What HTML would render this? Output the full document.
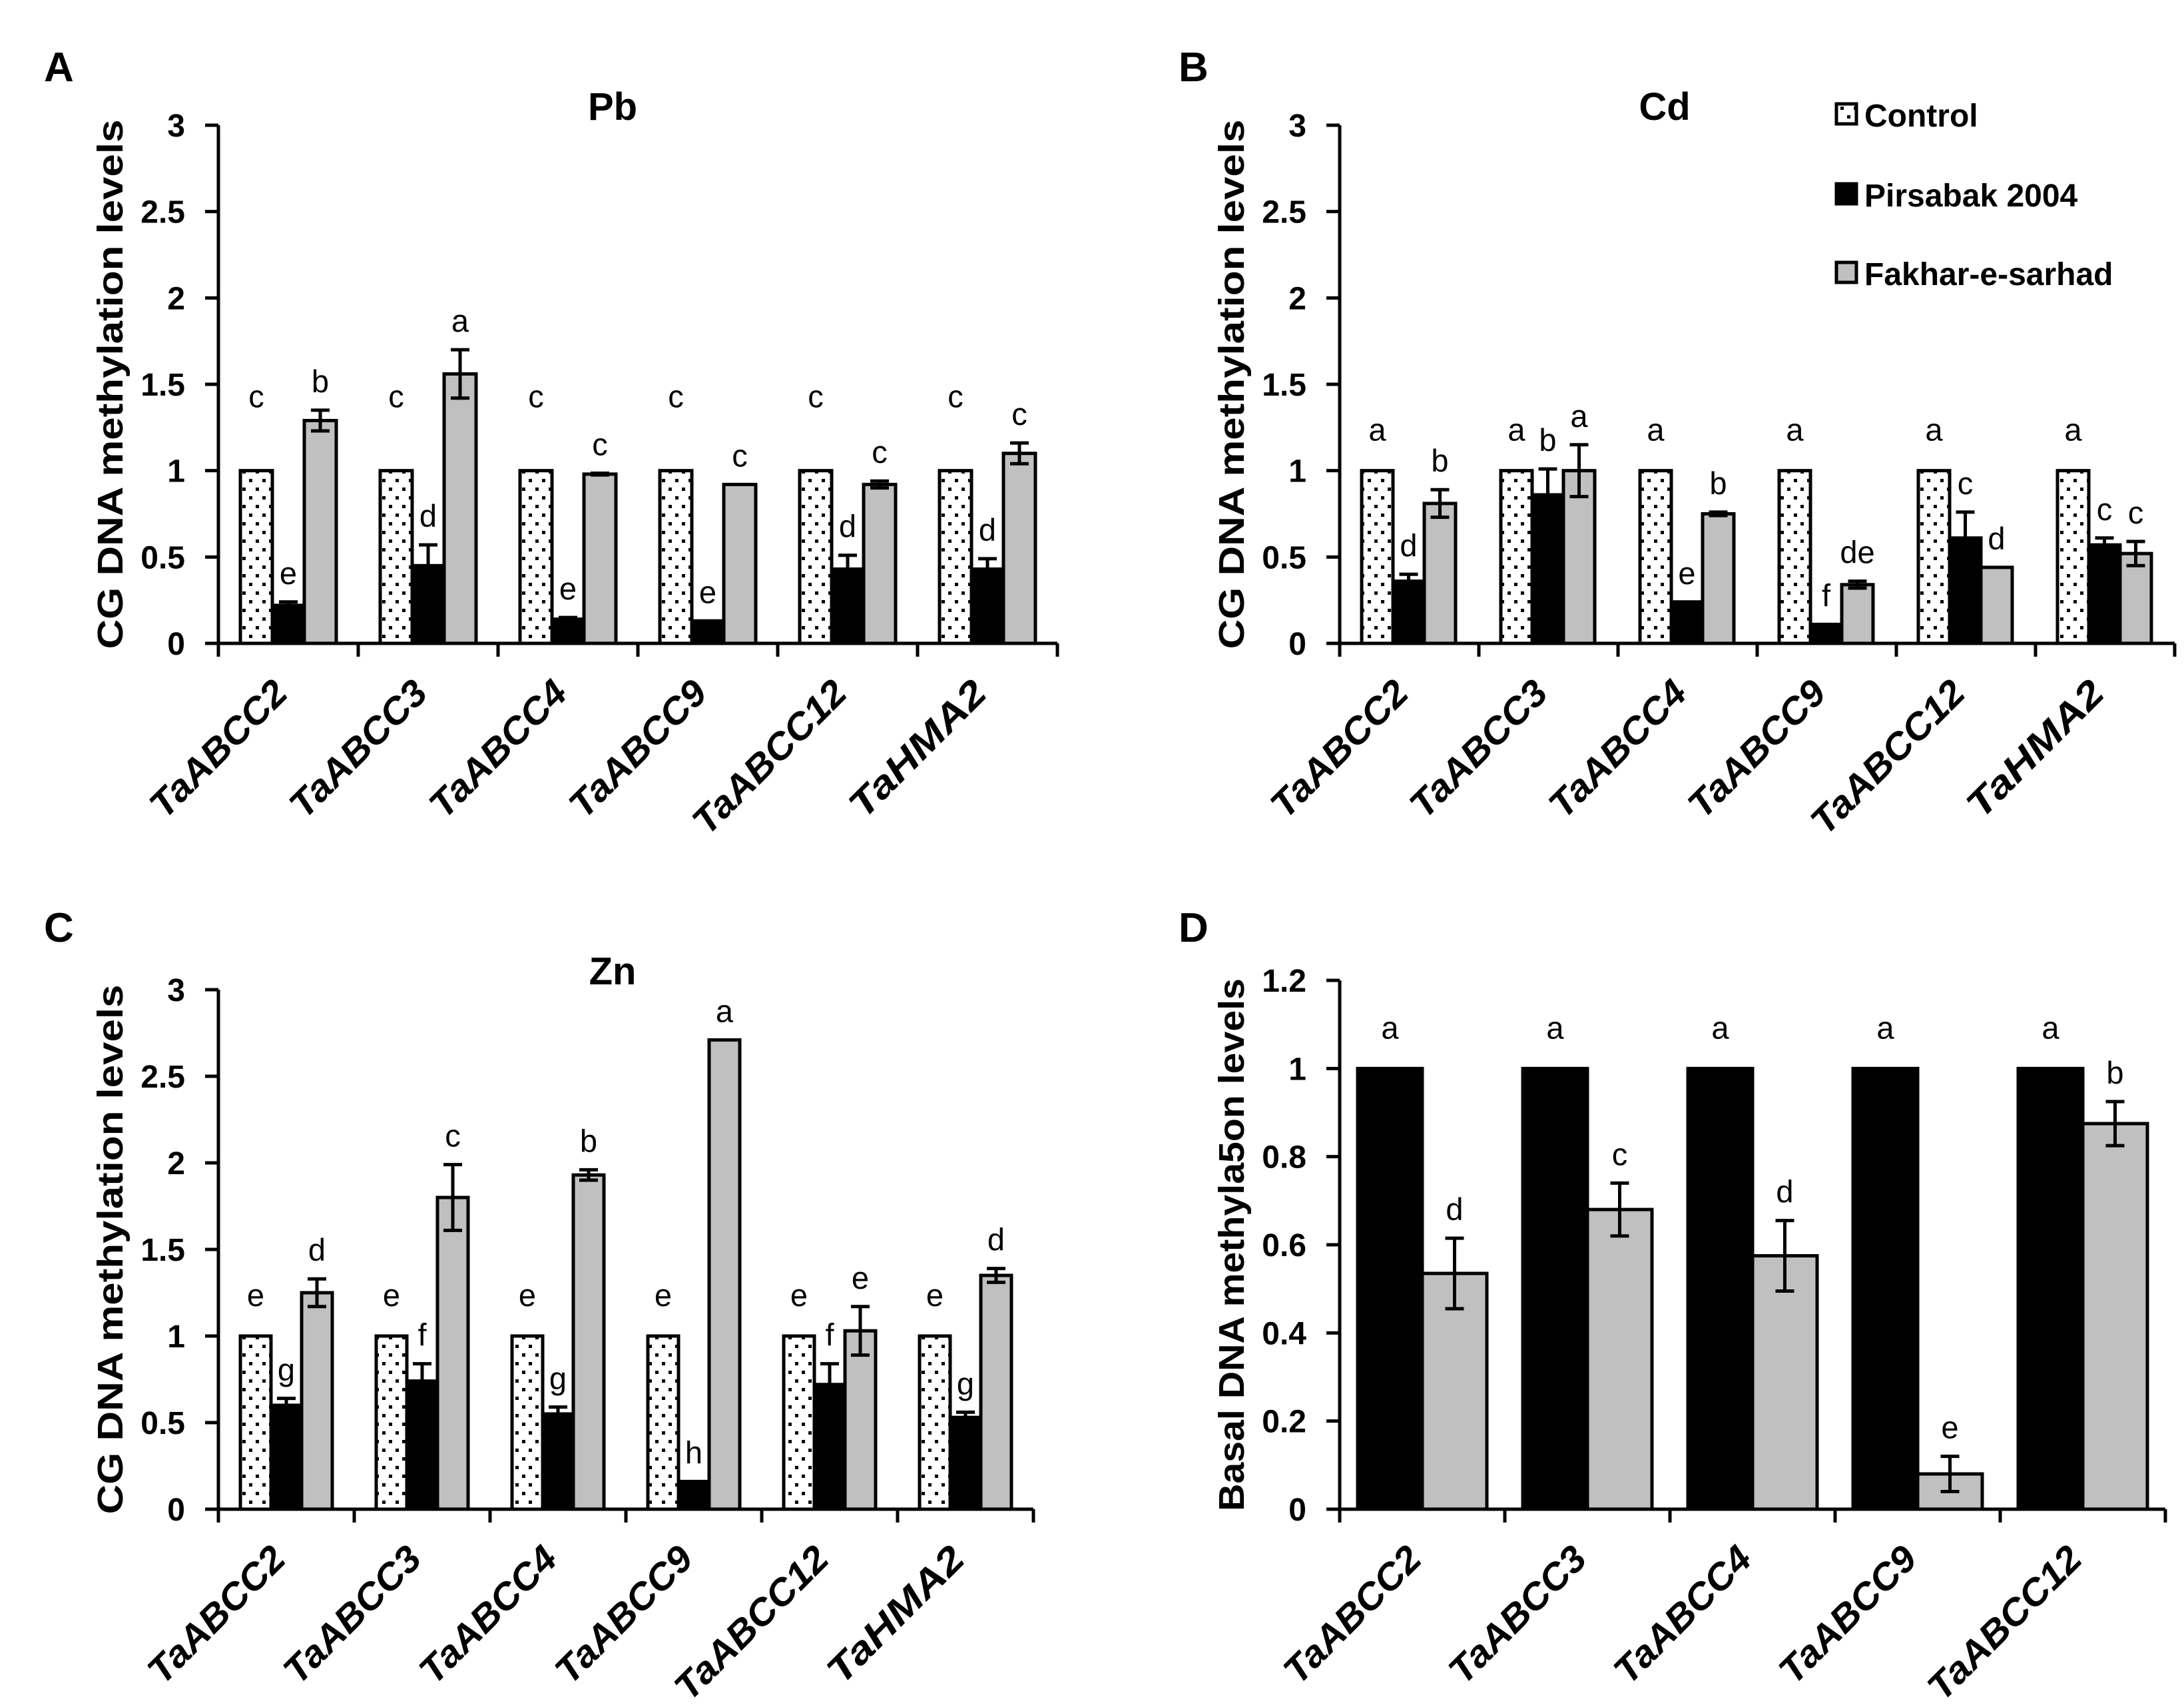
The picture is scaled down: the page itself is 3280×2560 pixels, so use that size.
<!DOCTYPE html>
<html><head><meta charset="utf-8"><style>
html,body{margin:0;padding:0;background:#fff}
svg{display:block}
text{font-family:"Liberation Sans",sans-serif}
</style></head><body>
<svg id="fig" width="3280" height="2560" viewBox="0 0 3280 2560" xmlns="http://www.w3.org/2000/svg">
<defs>
<pattern id="dots" patternUnits="userSpaceOnUse" width="20" height="26">
<rect width="20" height="26" fill="#fff"/>
<rect x="4" y="4" width="5" height="5" fill="#000"/>
<rect x="14" y="17" width="5" height="5" fill="#000"/>
</pattern>
</defs>
<g id="root"></g>
</svg>
<script>
const genes6 = ["TaABCC2","TaABCC3","TaABCC4","TaABCC9","TaABCC12","TaHMA2"];
const genes5 = ["TaABCC2","TaABCC3","TaABCC4","TaABCC9","TaABCC12"];
const ticks3 = [0,0.5,1,1.5,2,2.5,3];
const tickLabels3 = ["0","0.5","1","1.5","2","2.5","3"];
const ticksD = [0,0.2,0.4,0.6,0.8,1,1.2];
const tickLabelsD = ["0","0.2","0.4","0.6","0.8","1","1.2"];

const pbControl = [1,1,1,1,1,1];
const pbPirsabak = [0.22,0.45,0.14,0.13,0.43,0.43];
const pbPirsabakErr = [0.02,0.12,0.01,0,0.08,0.06];
const pbFakhar = [1.29,1.56,0.98,0.92,0.92,1.10];
const pbFakharErr = [0.06,0.14,0.005,0,0.02,0.06];
const pbLetC = ["c","c","c","c","c","c"];
const pbLetP = ["e","d","e","e","d","d"];
const pbLetF = ["b","a","c","c","c","c"];

const cdControl = [1,1,1,1,1,1];
const cdPirsabak = [0.36,0.86,0.24,0.11,0.61,0.57];
const cdPirsabakErr = [0.04,0.15,0,0,0.15,0.04];
const cdFakhar = [0.81,1.0,0.75,0.34,0.44,0.52];
const cdFakharErr = [0.08,0.15,0.01,0.02,0,0.07];
const cdLetC = ["a","a","a","a","a","a"];
const cdLetP = ["d","b","e","f","c","c"];
const cdLetF = ["b","a","b","de","d","c"];

const znControl = [1,1,1,1,1,1];
const znPirsabak = [0.60,0.74,0.55,0.16,0.72,0.53];
const znPirsabakErr = [0.04,0.10,0.04,0,0.12,0.03];
const znFakhar = [1.25,1.80,1.93,2.71,1.03,1.35];
const znFakharErr = [0.08,0.19,0.03,0,0.14,0.04];
const znLetC = ["e","e","e","e","e","e"];
const znLetP = ["g","f","g","h","f","g"];
const znLetF = ["d","c","b","a","e","d"];

const basalPirsabak = [1,1,1,1,1];
const basalFakhar = [0.535,0.68,0.575,0.08,0.875];
const basalFakharErr = [0.08,0.06,0.08,0.04,0.05];
const basalLetP = ["a","a","a","a","a"];
const basalLetF = ["d","c","d","e","b"];

const NS="http://www.w3.org/2000/svg";
const root=document.getElementById('root');
function el(tag,attrs,parent,txt){const e=document.createElementNS(NS,tag);for(const k in attrs)e.setAttribute(k,attrs[k]);if(txt!==undefined)e.textContent=txt;(parent||root).appendChild(e);return e;}

function panel(cfg){
  const g=el('g',{});
  
  
  const y=v=>cfg.y0-(v/cfg.max)*(cfg.y0-cfg.yTop);
  const n=cfg.cats.length;
  const gw=cfg.gw;
  const x0=cfg.x0;
  cfg.series.forEach((s,si)=>{
    for(let i=0;i<n;i++){
      const bx=x0+i*gw+cfg.off+si*cfg.bw;
      const v=s.vals[i];
      const r=el('rect',{x:bx,y:y(v),width:cfg.bw,height:cfg.y0-y(v),fill:s.fill,stroke:'#000','stroke-width':5},g);
      
      
      const cx=bx+cfg.bw/2;
      let top=y(v);
      if(s.err){
        const e=s.err[i];
        if(e>0){
          const eb=el('path',{d:`M${cx},${y(v+e)}V${y(v-e)}M${cx-14},${y(v+e)}H${cx+14}M${cx-14},${y(v-e)}H${cx+14}`,stroke:'#000','stroke-width':5,fill:'none'},g);
          
          
        }
        top=y(v+e);
      }
      if(s.lets){
        const off=s.letOff!==undefined?s.letOff:27;
        const t=el('text',{x:cx,y:top-off,'font-size':47,'text-anchor':'middle'},g,s.lets[i]);
        
        
      }
    }
  });
  const ax=el('path',{d:`M${x0},${cfg.yTop}V${cfg.y0}H${x0+n*gw}`,stroke:'#000','stroke-width':5,fill:'none'},g);
  
  
  cfg.ticks.forEach((tv,i)=>{
    el('path',{d:`M${x0-20},${y(tv)}H${x0}`,stroke:'#000','stroke-width':5},g);
    const t=el('text',{x:x0-50,y:y(tv)+17,'font-size':48,'font-weight':'bold','text-anchor':'end'},g,cfg.tickLabels[i]);
    
    
  });
  for(let i=0;i<=n;i++){
    el('path',{d:`M${x0+i*gw},${cfg.y0}V${cfg.y0+20}`,stroke:'#000','stroke-width':5},g);
  }
  cfg.cats.forEach((c,i)=>{
    const cx=x0+i*gw+gw/2+2, cy=cfg.y0+78;
    const t=el('text',{x:cx,y:cy,'font-size':56,'font-weight':'bold','font-style':'italic','text-anchor':'end',transform:`rotate(-45 ${cx} ${cy})`,textLength:c.length>7?300:265,lengthAdjust:'spacingAndGlyphs'},g,c);
    
    
  });
  const yt=el('text',{x:0,y:0,'font-size':54,'font-weight':'bold','text-anchor':'middle',transform:`translate(${cfg.ytX},${(cfg.yTop+cfg.y0)/2}) rotate(-90)`,textLength:cfg.ytLen,lengthAdjust:'spacingAndGlyphs'},g,cfg.ytitle);
  
  
  if(cfg.title){
    const tt=el('text',{x:cfg.titleX,y:cfg.yTop-8,'font-size':58,'font-weight':'bold','text-anchor':'middle'},g,cfg.title);
    
    
  }
  const pl=el('text',{x:cfg.letterX,y:cfg.letterY,'font-size':62,'font-weight':'bold'},g,cfg.letter);
  
  
}
const yTitleCG="CG DNA methylation levels";
panel({name:'panel-a-pb',cats:genes6,x0:328,y0:966,yTop:188,max:3,gw:210,bw:48,off:33,ticks:ticks3,tickLabels:tickLabels3,
  series:[{key:'control',vals:pbControl,fill:'url(#dots)',lets:pbLetC,letOff:95},{key:'pirsabak',vals:pbPirsabak,err:pbPirsabakErr,fill:'#000',lets:pbLetP},{key:'fakhar',vals:pbFakhar,err:pbFakharErr,fill:'#c0c0c0',lets:pbLetF}],
  ytitle:yTitleCG,ytX:184,ytLen:795,title:'Pb',titleX:920,letter:'A',letterX:66,letterY:122});
panel({name:'panel-b-cd',cats:genes6,x0:2012,y0:966,yTop:188,max:3,gw:209,bw:47,off:33,ticks:ticks3,tickLabels:tickLabels3,
  series:[{key:'control',vals:cdControl,fill:'url(#dots)',lets:cdLetC,letOff:45},{key:'pirsabak',vals:cdPirsabak,err:cdPirsabakErr,fill:'#000',lets:cdLetP},{key:'fakhar',vals:cdFakhar,err:cdFakharErr,fill:'#c0c0c0',lets:cdLetF}],
  ytitle:yTitleCG,ytX:1868,ytLen:795,title:'Cd',titleX:2500,letter:'B',letterX:1770,letterY:122});
panel({name:'panel-c-zn',cats:genes6,x0:328,y0:2266,yTop:1486,max:3,gw:204,bw:46,off:33,ticks:ticks3,tickLabels:tickLabels3,
  series:[{key:'control',vals:znControl,fill:'url(#dots)',lets:znLetC,letOff:45},{key:'pirsabak',vals:znPirsabak,err:znPirsabakErr,fill:'#000',lets:znLetP},{key:'fakhar',vals:znFakhar,err:znFakharErr,fill:'#c0c0c0',lets:znLetF}],
  ytitle:yTitleCG,ytX:184,ytLen:795,title:'Zn',titleX:920,letter:'C',letterX:66,letterY:1414});
panel({name:'panel-d-basal',cats:genes5,x0:2012,y0:2266,yTop:1472,max:1.2,gw:248,bw:97,off:27,ticks:ticksD,tickLabels:tickLabelsD,
  series:[{key:'pirsabak',vals:basalPirsabak,fill:'#000',lets:basalLetP,letOff:45},{key:'fakhar',vals:basalFakhar,err:basalFakharErr,fill:'#c0c0c0',lets:basalLetF}],
  ytitle:'Basal DNA methyla5on levels',ytX:1868,ytLen:800,letter:'D',letterX:1770,letterY:1414});

const legend=el('g',{});


const legNames=["Control","Pirsabak 2004","Fakhar-e-sarhad"];
const legFills=["url(#dots)","#000","#c0c0c0"];
const legY=[172,292,410];
legNames.forEach((nm,i)=>{
  const r=el('rect',{x:2758,y:legY[i]-16,width:30,height:30,fill:legFills[i],stroke:'#000','stroke-width':5},legend);
  
  
  const t=el('text',{x:2800,y:legY[i]+18,'font-size':48,'font-weight':'bold'},legend,nm);
  
  
});
</script>
</body></html>
